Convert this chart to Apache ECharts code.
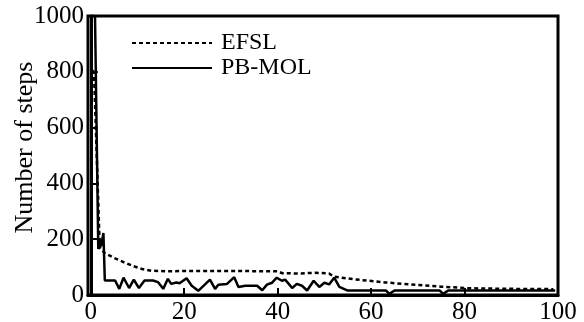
<!DOCTYPE html>
<html>
<head>
<meta charset="utf-8">
<script src="https://cdn.jsdelivr.net/npm/echarts@6/dist/echarts.min.js"></script>
<style>
  html, body { margin: 0; padding: 0; background: #fff; }
  #chart { width: 584px; height: 322px; }
</style>
</head>
<body>
<div id="chart"></div>
<script>
// 刻度
var xTicks = [20, 40, 60, 80];
var xLabels = [0, 20, 40, 60, 80, 100];
var yTicks = [200, 400, 600, 800];

// EFSL (虚线)
var efslX = [0, 0.7, 1.8, 2.0, 2.4, 3, 5, 7, 9, 11, 13, 16, 20, 30, 40, 41, 45, 48, 51, 52, 56, 63, 70, 75, 81, 90, 99];
var efslY = [830, 790, 230, 167, 160, 150, 133, 118, 104, 93, 87, 85, 86, 86, 85, 78, 77, 80, 77, 66, 57, 45, 36, 30, 24, 22, 21];

// PB-MOL (实线)
var pbX = [0, 0.9, 1.6, 2.0, 2.2, 2.7, 3.0, 3.0, 5.2, 6.1, 7.0, 8.2, 9.2, 10.3, 11.5, 13.3, 14.4, 15.5, 16.5, 17.2, 18.3, 19.0, 20.5, 21.6, 23.0, 24.4, 25.5, 26.6, 27.3, 29.1, 30.7, 31.6, 33.1, 35.6, 36.7, 37.7, 38.8, 39.8, 40.9, 41.6, 43.1, 44.1, 45.2, 46.3, 47.7, 48.9, 50.0, 51.0, 52.1, 53.2, 55.0, 63.2, 63.9, 65.0, 74.7, 75.4, 76.5, 99.4];
var pbY = [1000, 1000, 165, 195, 175, 222, 222, 52, 52, 22, 62, 25, 55, 25, 52, 52, 46, 22, 58, 40, 45, 42, 60, 33, 15, 37, 55, 22, 37, 39, 64, 29, 33, 33, 17, 37, 44, 62, 51, 55, 25, 40, 33, 16, 51, 29, 44, 38, 62, 29, 16, 16, 4, 16, 16, 4, 16, 16];

function pairs(xs, ys) {
    return xs.map(function (x, i) { return [x, ys[i]]; });
}

var font = 'Liberation Serif';

var option = {
    animation: false,
    backgroundColor: '#fff',
    grid: {
        show: true,
        left: 88,
        right: 26,
        top: 16,
        bottom: 27,
        outerBoundsMode: 'none',
        containLabel: false,
        borderColor: '#000',
        borderWidth: 3
    },
    legend: {
        orient: 'vertical',
        left: 126,
        top: 26,
        itemWidth: 80,
        itemHeight: 10,
        itemGap: 1,
        itemStyle: { opacity: 0 },
        textStyle: { fontFamily: font, fontSize: 24, color: '#000', padding: [0, 0, 0, 4] },
        data: ['EFSL', 'PB-MOL']
    },
    xAxis: {
        type: 'value',
        min: -0.6,
        max: 100,
        splitLine: { show: false },
        axisLine: { lineStyle: { color: '#000', width: 3 } },
        axisTick: { inside: true, length: 7, customValues: xTicks, lineStyle: { color: '#000', width: 2 } },
        axisLabel: { customValues: xLabels, margin: 5, fontFamily: font, fontSize: 25, color: '#000' }
    },
    yAxis: {
        type: 'value',
        min: 0,
        max: 1000,
        interval: 200,
        name: 'Number of steps',
        nameLocation: 'middle',
        nameGap: 50,
        nameMoveOverlap: false,
        nameTextStyle: { fontFamily: font, fontSize: 26, color: '#000', padding: [0, 0, 0, 16] },
        splitLine: { show: false },
        axisLine: { lineStyle: { color: '#000', width: 3 } },
        axisTick: { inside: true, length: 7, customValues: yTicks, lineStyle: { color: '#000', width: 2 } },
        axisLabel: {
            margin: 4, fontFamily: font, fontSize: 25, color: '#000',
            formatter: function (v) { return String(v); }
        }
    },
    series: [
        {
            name: 'EFSL',
            type: 'line',
            data: pairs(efslX, efslY),
            symbol: 'none',
            lineStyle: { color: '#000', width: 2.5, type: [4, 3] },
            itemStyle: { color: '#000' }
        },
        {
            name: 'PB-MOL',
            type: 'line',
            data: pairs(pbX, pbY),
            symbol: 'none',
            lineStyle: { color: '#000', width: 2.5 },
            itemStyle: { color: '#000' }
        }
    ]
};

var chart = echarts.init(document.getElementById('chart'));
chart.setOption(option);
</script>
</body>
</html>
